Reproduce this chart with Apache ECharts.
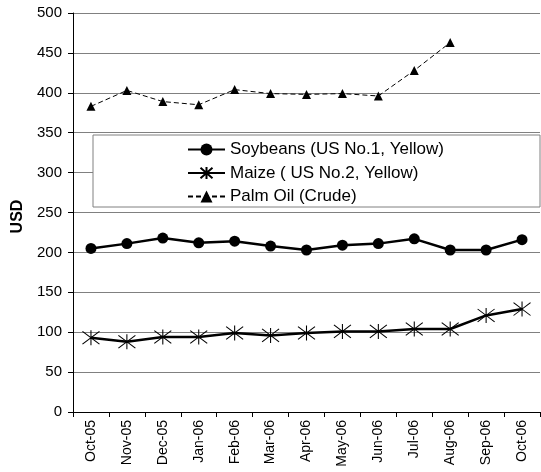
<!DOCTYPE html>
<html>
<head>
<meta charset="utf-8">
<script src="https://cdn.jsdelivr.net/npm/echarts@6/dist/echarts.min.js"></script>
<style>
  html, body { margin: 0; padding: 0; background: #fff; }
  #chart { width: 541px; height: 472px; }
</style>
</head>
<body>
<div id="chart"></div>
<script>
var months = ['Oct-05', 'Nov-05', 'Dec-05', 'Jan-06', 'Feb-06', 'Mar-06', 'Apr-06',
  'May-06', 'Jun-06', 'Jul-06', 'Aug-06', 'Sep-06', 'Oct-06'];
var soybeans = [205, 211, 218, 212, 214, 208, 203, 209, 211, 217, 203, 203, 216];
var maize = [93, 88, 94, 94, 99, 96, 99, 101, 101, 104, 104, 121, 129];
var palmOil = [383, 403, 389, 385, 404, 399, 398, 399, 396, 428, 463, null, null];
var yTicks = { min: 0, max: 500, step: 50 };

var font = 'Arial, "Liberation Sans", sans-serif';
var asterisk = 'path://M8,0L8,14M0,1L16,13M0,13L16,1';

var chart = echarts.init(document.getElementById('chart'));
var option = {
  animation: false,
  backgroundColor: '#fff',
  grid: { left: 73, right: 1, top: 13, bottom: 60 },
  graphic: [{
    type: 'rect',
    z: 3,
    shape: { x: 93, y: 135, width: 447, height: 72 },
    style: { fill: '#fff', stroke: '#808080', lineWidth: 1 }
  }],
  legend: {
    orient: 'vertical',
    left: 182,
    top: 136,
    z: 5,
    selectedMode: false,
    itemWidth: 37,
    itemHeight: 15,
    itemGap: 6.5,
    textStyle: { fontFamily: font, fontSize: 17, color: '#000' },
    data: ['Soybeans (US No.1, Yellow)', 'Maize ( US No.2, Yellow)', 'Palm Oil (Crude)']
  },
  xAxis: {
    type: 'category',
    data: months,
    boundaryGap: true,
    axisLine: { lineStyle: { color: '#000', width: 1 } },
    axisTick: { show: true, length: 5, lineStyle: { color: '#000' } },
    axisLabel: { rotate: 90, margin: 8, fontFamily: font, fontSize: 14, color: '#000', interval: 0 },
    splitLine: { show: false }
  },
  yAxis: {
    type: 'value',
    min: yTicks.min,
    max: yTicks.max,
    interval: yTicks.step,
    name: 'USD',
    nameLocation: 'middle',
    nameGap: 46,
    nameTextStyle: { fontFamily: font, fontSize: 16, fontWeight: 'bold', color: '#000', padding: [0, 8, 0, 0] },
    axisLine: { show: true, lineStyle: { color: '#000', width: 1 } },
    axisTick: { show: true, length: 5, lineStyle: { color: '#000' } },
    axisLabel: { margin: 11, fontFamily: font, fontSize: 15, color: '#000' },
    splitLine: { lineStyle: { color: '#808080', width: 1 } }
  },
  series: [
    {
      name: 'Soybeans (US No.1, Yellow)',
      type: 'line',
      data: soybeans,
      symbol: 'circle',
      symbolSize: 11,
      itemStyle: { color: '#000' },
      lineStyle: { color: '#000', width: 2.5 }
    },
    {
      name: 'Maize ( US No.2, Yellow)',
      type: 'line',
      data: maize,
      symbol: asterisk,
      symbolSize: [17, 15],
      itemStyle: { color: 'none', borderColor: '#000', borderWidth: 1 },
      lineStyle: { color: '#000', width: 2.5 }
    },
    {
      name: 'Palm Oil (Crude)',
      type: 'line',
      data: palmOil,
      symbol: 'triangle',
      symbolSize: 9,
      itemStyle: { color: '#000' },
      lineStyle: { color: '#000', width: 1, type: [5, 3] }
    }
  ]
};
chart.setOption(option);
</script>
</body>
</html>
